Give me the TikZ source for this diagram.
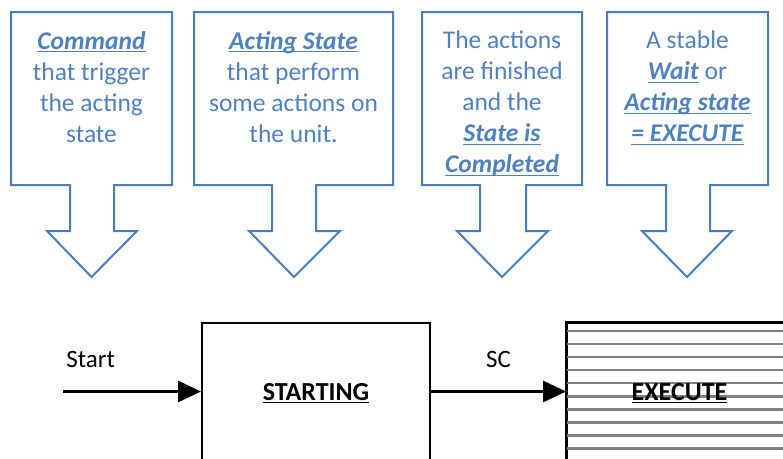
\documentclass[tikz,border=0pt]{standalone}
\usepackage{fontspec}
\setmainfont{Carlito}
\usetikzlibrary{arrows.meta}
\definecolor{callline}{HTML}{4A7EBB}
\definecolor{calltext}{HTML}{4F81BD}
\definecolor{stripe}{HTML}{808080}
% underline drawn as a rule just under the baseline
\newcommand{\ulined}[1]{\setbox0=\hbox{#1}\leavevmode\rlap{\copy0}\raisebox{-3.3pt}{\rule{\wd0}{1.6pt}}}
\newcommand{\keyword}[1]{\ulined{\textbf{\textit{#1}}}}
\tikzset{
  callout/.style={draw=callline, line width=2pt, line join=miter, fill=white},
  calltxt/.style={text=calltext, align=center, inner sep=0pt, anchor=north,
    font=\fontsize{25.5}{31}\selectfont},
  statebox/.style={draw=black, line width=2pt, rectangle, inner sep=0pt,
    minimum width=228pt, minimum height=137pt},
  statetxt/.style={inner sep=0pt, anchor=base, yshift=-8.5pt,
    font=\fontsize{26}{31}\selectfont\bfseries},
  flow/.style={line width=3pt, -{Triangle[length=23pt,width=21pt]}},
  flowlabel/.style={inner sep=0pt, font=\fontsize{25}{30}\selectfont},
}
\begin{document}
\begin{tikzpicture}[x=1pt, y=-1pt]
\clip (0,0) rectangle (783,458);
\fill[white] (0,0) rectangle (783,458);

% down-arrow callouts: box corners, stem, head and tip
\draw[callout] (11,12) -- (172,12) -- (172,185) -- (114,185) -- (114,231) -- (137,231)
  -- (91.5,277) -- (47,231) -- (70,231) -- (70,185) -- (11,185) -- cycle;
\draw[callout] (194,12) -- (393,12) -- (393,185) -- (316,185) -- (316,231) -- (340,231)
  -- (294,277) -- (249,231) -- (272,231) -- (272,185) -- (194,185) -- cycle;
\draw[callout] (422,12) -- (582,12) -- (582,185) -- (526,185) -- (526,231) -- (548,231)
  -- (502,277) -- (457,231) -- (480,231) -- (480,185) -- (422,185) -- cycle;
\draw[callout] (607,12) -- (768,12) -- (768,185) -- (710,185) -- (710,231) -- (732,231)
  -- (687,277) -- (642,231) -- (666,231) -- (666,185) -- (607,185) -- cycle;

\node[calltxt] (cmd) at (91.5,31) {\keyword{Command}\\that trigger\\the acting\\state};
\node[calltxt] (act) at (293.5,31) {\keyword{Acting State}\\that perform\\some actions on\\the unit.};
\node[calltxt] (done) at (502,31) {The actions\\are finished\\and the\\\keyword{State is}\\\keyword{Completed}};
\node[calltxt] (wait) at (687.5,31) {A stable\\\keyword{Wait} or\\\keyword{Acting state}\\\keyword{= EXECUTE}};

% state boxes
\node[statebox] (starting) at (316,391.5) {};
\node[statebox] (execute) at (681,391.5) {};
\begin{scope}
  \clip (567,323) rectangle (795,460);
  \foreach \k in {0,...,9}
    \draw[stripe, line width=2.7pt] (567,331+13.03*\k) -- (795,331+13.03*\k);
\end{scope}
\draw[line width=2pt] (execute.south west) -- (execute.north west) -- (execute.north east);
\node[statetxt] (startingtxt) at (starting.center) {\ulined{STARTING}};
\node[statetxt] (executetxt) at (679.5,391.5) {\ulined{EXECUTE}};

% transitions
\coordinate (entry) at (63,391.5);
\draw[flow] (entry) -- node[flowlabel, pos=0.2, above=22pt] (startlbl) {Start} (starting.west);
\draw[flow] (starting.east) -- node[flowlabel, above=22pt] (sclbl) {SC} (execute.west);
\end{tikzpicture}
\end{document}
